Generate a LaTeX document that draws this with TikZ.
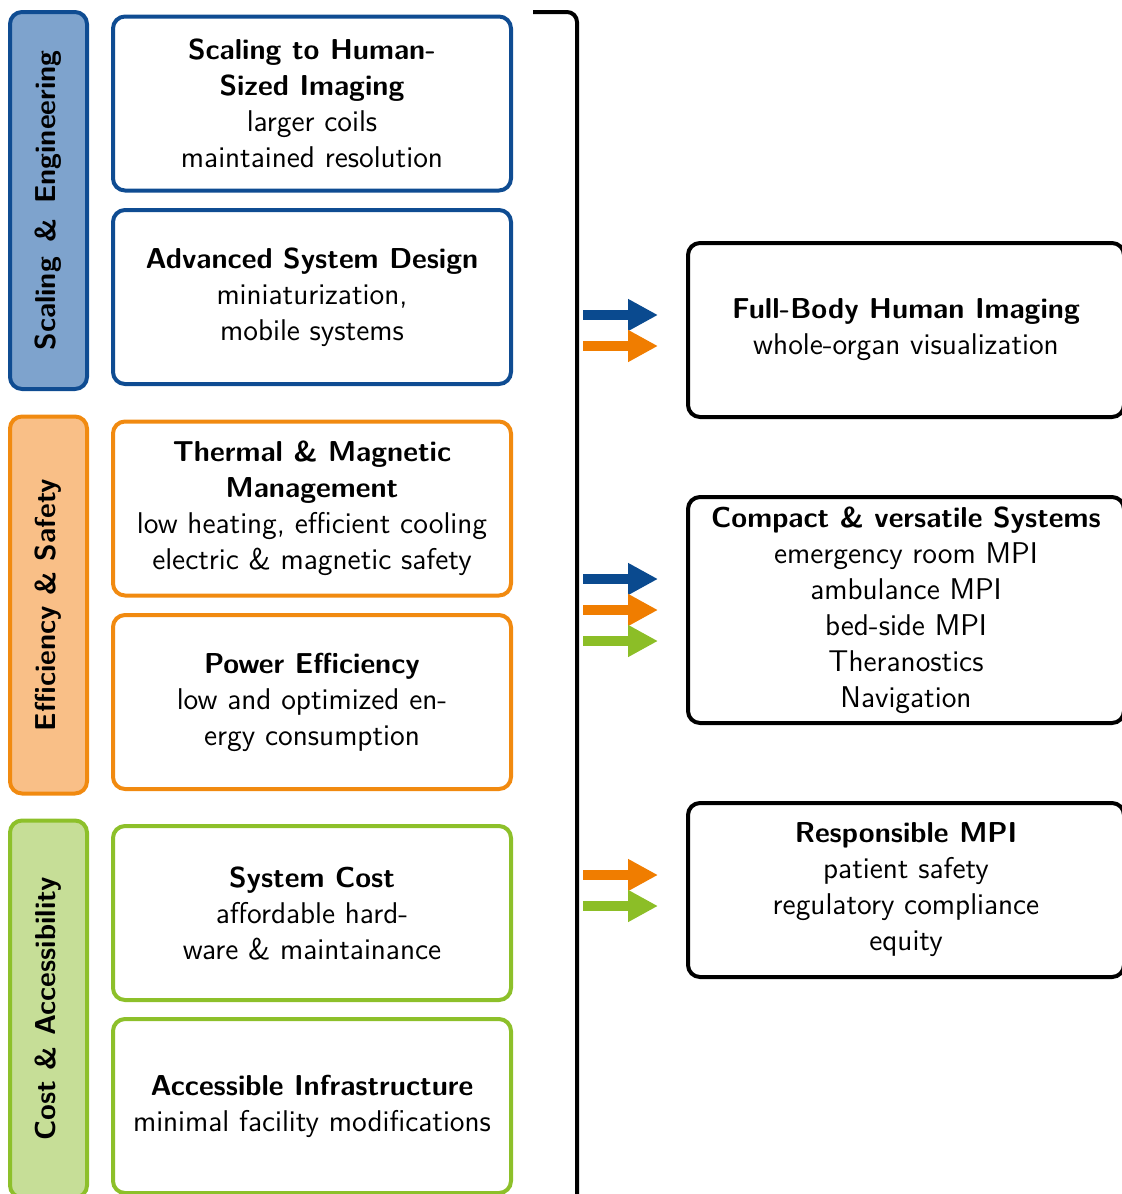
\documentclass[tikz,border=0pt]{standalone}
\usepackage{tikz}
\usetikzlibrary{arrows.meta, positioning}
\definecolor{blueline}{HTML}{0F4C92}
\definecolor{bluefill}{HTML}{7EA3CD}
\definecolor{orangeline}{HTML}{F18A10}
\definecolor{orangefill}{HTML}{F9BF87}
\definecolor{greenline}{HTML}{8DC02A}
\definecolor{greenfill}{HTML}{C6DE97}
\definecolor{arrowblue}{HTML}{0A4A8F}
\definecolor{arroworange}{HTML}{F07D00}
\definecolor{arrowgreen}{HTML}{8CBE27}

\newcommand{\boxtitle}[1]{{\fontsize{14.4}{18}\selectfont\bfseries #1}}

\tikzset{
  catbar/.style={draw=#1line, fill=#1fill, line width=2pt, rounded corners=6pt,
                 rotate=90, minimum width=188.5pt, minimum height=38.5pt,
                 inner sep=0pt, font=\sffamily\bfseries\Large},
  stepbox/.style={draw=#1, line width=2pt, rounded corners=6pt,
                  minimum width=199pt, minimum height=87pt, inner sep=2pt,
                  align=center, font=\sffamily\fontsize{15}{18}\selectfont},
  goalbox/.style={draw=black, line width=2pt, rounded corners=6pt,
                  minimum width=218pt, minimum height=#1, inner sep=2pt,
                  align=center, font=\sffamily\fontsize{15}{18}\selectfont},
  flowarrow/.style={draw=#1, line width=5pt,
                    -{Triangle[length=15pt, width=15pt]}},
  bracket/.style={draw=black, line width=2pt, rounded corners=5pt}
}

\begin{document}
\begin{tikzpicture}[x=0.5pt, y=-0.5pt]
  \useasboundingbox (0,0) rectangle (1121,1194);

  % category bars
  \node[catbar=blue]   (scaling)    at (48.5,200.5) {Scaling\hspace{2pt} \&\hspace{2pt} Engineering};
  \node[catbar=orange] (efficiency) at (48.5,605)   {Efficiency \& Safety};
  \node[catbar=green]  (cost)       at (48.5,1009)  {Cost \& Accessibility};

  % challenge boxes
  \node[stepbox=blueline] (humansize) at (312,103.5)
    {\boxtitle{Scaling to Human-}\\\boxtitle{Sized Imaging}\\larger coils\\maintained resolution};
  \node[stepbox=blueline] (sysdesign) at (312,297)
    {\boxtitle{Advanced System Design}\\miniaturization,\\mobile systems};
  \node[stepbox=orangeline] (thermal) at (312,508.5)
    {\boxtitle{Thermal \& Magnetic}\\\boxtitle{Management}\\low heating, efficient cooling\\electric \& magnetic safety};
  \node[stepbox=orangeline] (power) at (312,702)
    {\boxtitle{Power Efficiency}\\low and optimized en-\\ergy consumption};
  \node[stepbox=greenline] (syscost) at (312,913)
    {\boxtitle{System Cost}\\affordable hard-\\ware \& maintainance};
  \node[stepbox=greenline] (infra) at (312,1106)
    {\boxtitle{Accessible Infrastructure}\\minimal facility modifications};

  % bracket
  \draw[bracket] (533,12) -- (577,12) -- (577,1206) -- (533,1206);

  % goal boxes
  \node[goalbox=87pt] (fullbody) at (906,330)
    {\boxtitle{Full-Body Human Imaging}\\whole-organ visualization};
  \node[goalbox=113pt] (compact) at (906,610)
    {\boxtitle{Compact \& versatile Systems}\\emergency room MPI\\ambulance MPI\\bed-side MPI\\Theranostics\\Navigation};
  \node[goalbox=87pt] (responsible) at (906,890)
    {\boxtitle{Responsible MPI}\\patient safety\\regulatory compliance\\equity};

  % arrows
  \foreach \y/\c [count=\i] in {315/arrowblue, 346/arroworange,
                                579/arrowblue, 610/arroworange, 641/arrowgreen,
                                875/arroworange, 906/arrowgreen} {
    \coordinate (from\i) at (583,\y);
    \coordinate (to\i)   at (658,\y);
    \draw[flowarrow=\c] (from\i) -- (to\i);
  }
\end{tikzpicture}
\end{document}
